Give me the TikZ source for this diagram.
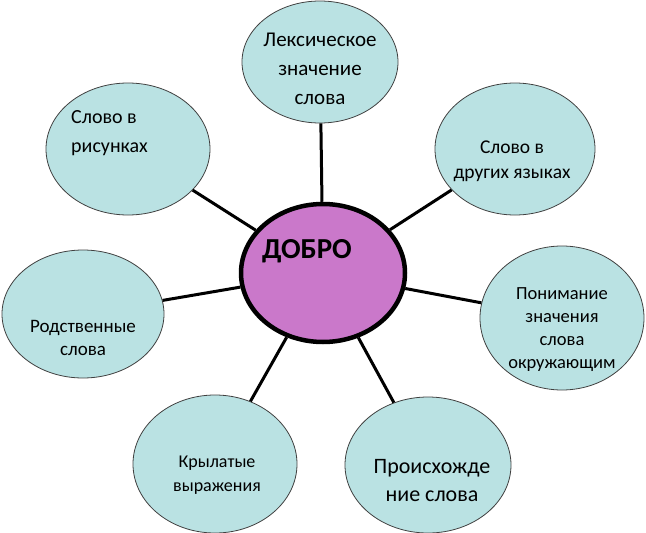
\documentclass[tikz,border=0pt]{standalone}
\usepackage{fontspec}
\setmainfont{Carlito}
\usepackage{xcolor}
\usetikzlibrary{math,shapes.geometric}

\definecolor{bubblefill}{RGB}{186,226,227}
\definecolor{corefill}{RGB}{202,120,202}

\begin{document}
\begin{tikzpicture}[x=1pt,y=-1pt,
  bubble/.style={ellipse,draw=black!75,line width=0.8pt,fill=bubblefill,inner sep=0pt},
  core/.style={ellipse,draw=black,line width=4.5pt,fill=corefill,inner sep=0pt,minimum width=164pt,minimum height=138pt},
  link/.style={line width=3pt},
  lbl/.style={inner sep=0pt,align=center}]

\tikzmath{
\scale = 1;
}

\useasboundingbox (0*\scale,0*\scale) rectangle (646*\scale,533*\scale);

\node[core] (dobro) at (323*\scale,273*\scale) {};

\node[bubble,minimum width=156pt,minimum height=122pt] (lex) at (320*\scale,62*\scale) {};
\node[bubble,minimum width=164pt,minimum height=132pt] (pic) at (128*\scale,149*\scale) {};
\node[bubble,minimum width=160pt,minimum height=132pt] (lang) at (515*\scale,149*\scale) {};
\node[bubble,minimum width=164pt,minimum height=144pt] (sense) at (562*\scale,318*\scale) {};
\node[bubble,minimum width=162pt,minimum height=128pt] (kin) at (83*\scale,314*\scale) {};
\node[bubble,minimum width=164pt,minimum height=138pt] (idiom) at (215*\scale,464*\scale) {};
\node[bubble,minimum width=166pt,minimum height=136pt] (origin) at (428*\scale,465*\scale) {};

\draw[link] (dobro) -- (lex);
\draw[link] (dobro) -- (pic);
\draw[link] (dobro) -- (lang);
\draw[link] (dobro) -- (sense);
\draw[link] (dobro) -- (kin);
\draw[link] (dobro) -- (idiom);
\draw[link] (dobro) -- (origin);

\node[lbl,font=\bfseries\fontsize{29}{34}\selectfont] (dobrotext) at (307*\scale,251*\scale) {ДОБРО};
\node[lbl,font=\fontsize{21}{29}\selectfont] (lextext) at (320*\scale,69*\scale) {Лексическое\\значение\\слова};
\node[lbl,align=left,anchor=west,font=\fontsize{20}{29}\selectfont] (pictext) at (71*\scale,133*\scale) {Слово в\\рисунках};
\node[lbl,font=\fontsize{19.5}{25}\selectfont] (langtext) at (512*\scale,161*\scale) {Слово в\\других языках};
\node[lbl,font=\fontsize{18.5}{23}\selectfont] (sensetext) at (562*\scale,330*\scale) {Понимание\\значения\\слова\\окружающим};
\node[lbl,font=\fontsize{19}{23}\selectfont] (kintext) at (83*\scale,338*\scale) {Родственные\\слова};
\node[lbl,font=\fontsize{18}{24}\selectfont] (idiomtext) at (217*\scale,475*\scale) {Крылатые\\выражения};
\node[lbl,font=\fontsize{22}{28}\selectfont] (origintext) at (432*\scale,481*\scale) {Происхожде\\ние слова};

\end{tikzpicture}
\end{document}
